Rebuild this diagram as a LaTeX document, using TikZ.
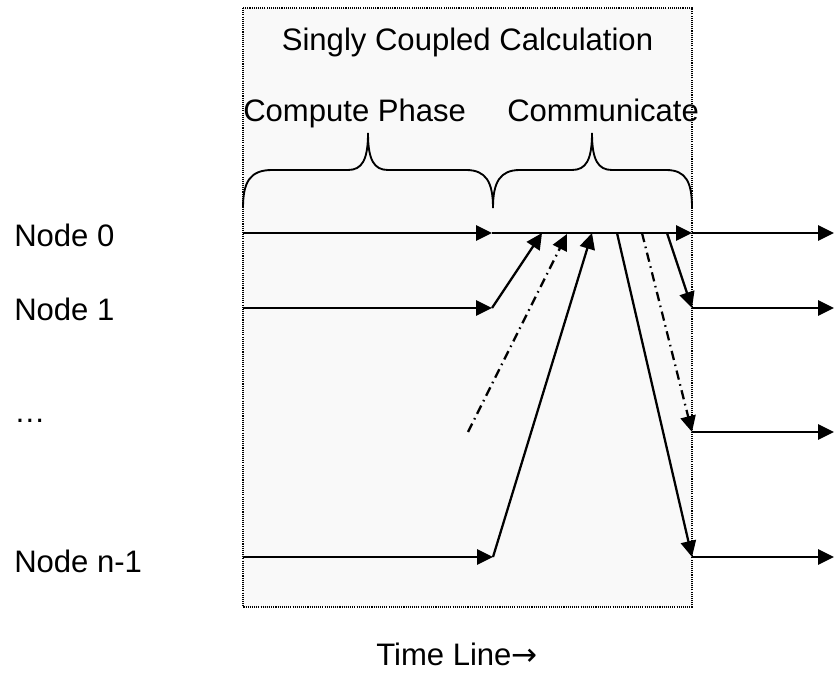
\documentclass[tikz,border=0pt]{standalone}
\usepackage{fontspec}
\setmainfont{Liberation Sans}
\newfontfamily\arrowfont{DejaVu Sans}
\usetikzlibrary{arrows.meta}
\definecolor{panelgray}{HTML}{F9F9F9}
\tikzset{
  flow/.style={line width=1.7pt, -{Triangle[length=12pt,width=11.5pt]}},
  flowdd/.style={flow, dash pattern=on 7pt off 3.5pt on 1.2pt off 3.5pt},
  bracepath/.style={line width=1.4pt},
  panel/.style={fill=panelgray, draw=black, line width=0.8pt, dash pattern=on 0.8pt off 0.8pt},
  lbl/.style={font=\fontsize{23.3}{28}\selectfont, inner sep=0pt},
}
\begin{document}
\begin{tikzpicture}[x=0.75pt,y=-0.75pt]
\useasboundingbox (0,0) rectangle (835,673);

% phase panel
\draw[panel] (243,8) rectangle (692,607);

% titles
\node[lbl, anchor=base] (title) at (467.5,51) {Singly Coupled Calculation};
\node[lbl, anchor=base west] (compute) at (243,122) {Compute Phase};
\node[lbl, anchor=base west] (comm) at (507,122) {Communicate};

% braces over the two phases
\draw[bracepath] (243,208) .. controls (243,182) and (250,170) .. (272,170)
  -- (348,170) .. controls (362,170) and (368,160) .. (368,133)
  .. controls (368,160) and (374,170) .. (388,170)
  -- (466,170) .. controls (486,170) and (493,182) .. (493,208);
\draw[bracepath] (493,208) .. controls (493,182) and (500,170) .. (520,170)
  -- (572,170) .. controls (586,170) and (592,160) .. (592,133)
  .. controls (592,160) and (598,170) .. (612,170)
  -- (666,170) .. controls (686,170) and (692,182) .. (692,208);

% node labels
\node[lbl, anchor=base west] (n0) at (14,247) {Node 0};
\node[lbl, anchor=base west] (n1) at (14,321) {Node 1};
\node[lbl, anchor=base west] (ndots) at (14,422) {…};
\node[lbl, anchor=base west] (nlast) at (14,572) {Node n-1};
\node[lbl, anchor=base west] (time) at (376,665) {Time Line{\arrowfont →}};

% timeline junctions
\coordinate (a0) at (243,233); \coordinate (b0) at (492,233);
\coordinate (c0) at (692,233); \coordinate (d0) at (834,233);
\coordinate (a1) at (243,308); \coordinate (b1) at (492,308);
\coordinate (c1) at (692,308); \coordinate (d1) at (834,308);
\coordinate (ck) at (692,432); \coordinate (dk) at (834,432);
\coordinate (an) at (243,557); \coordinate (bn) at (493,557);
\coordinate (cn) at (692,557); \coordinate (dn) at (834,557);
\coordinate (sk) at (468,432);
\coordinate (g1) at (542,233); \coordinate (gk) at (567,234);
\coordinate (gn) at (592,233);
\coordinate (s1) at (667,233); \coordinate (sk2) at (642,233);
\coordinate (sn) at (617,233);

% compute phase
\draw[flow] (a0) -- (b0);
\draw[flow] (a1) -- (b1);
\draw[flow] (an) -- (bn);

% gather onto node 0
\draw[flow] (b0) -- (c0);
\draw[flow] (b1) -- (g1);
\draw[flowdd] (sk) -- (gk);
\draw[flow] (bn) -- (gn);

% scatter from node 0
\draw[flow] (s1) -- (c1);
\draw[flowdd] (sk2) -- (ck);
\draw[flow] (sn) -- (cn);

% next compute phase
\draw[flow] (c0) -- (d0);
\draw[flow] (c1) -- (d1);
\draw[flow] (ck) -- (dk);
\draw[flow] (cn) -- (dn);
\end{tikzpicture}
\end{document}
